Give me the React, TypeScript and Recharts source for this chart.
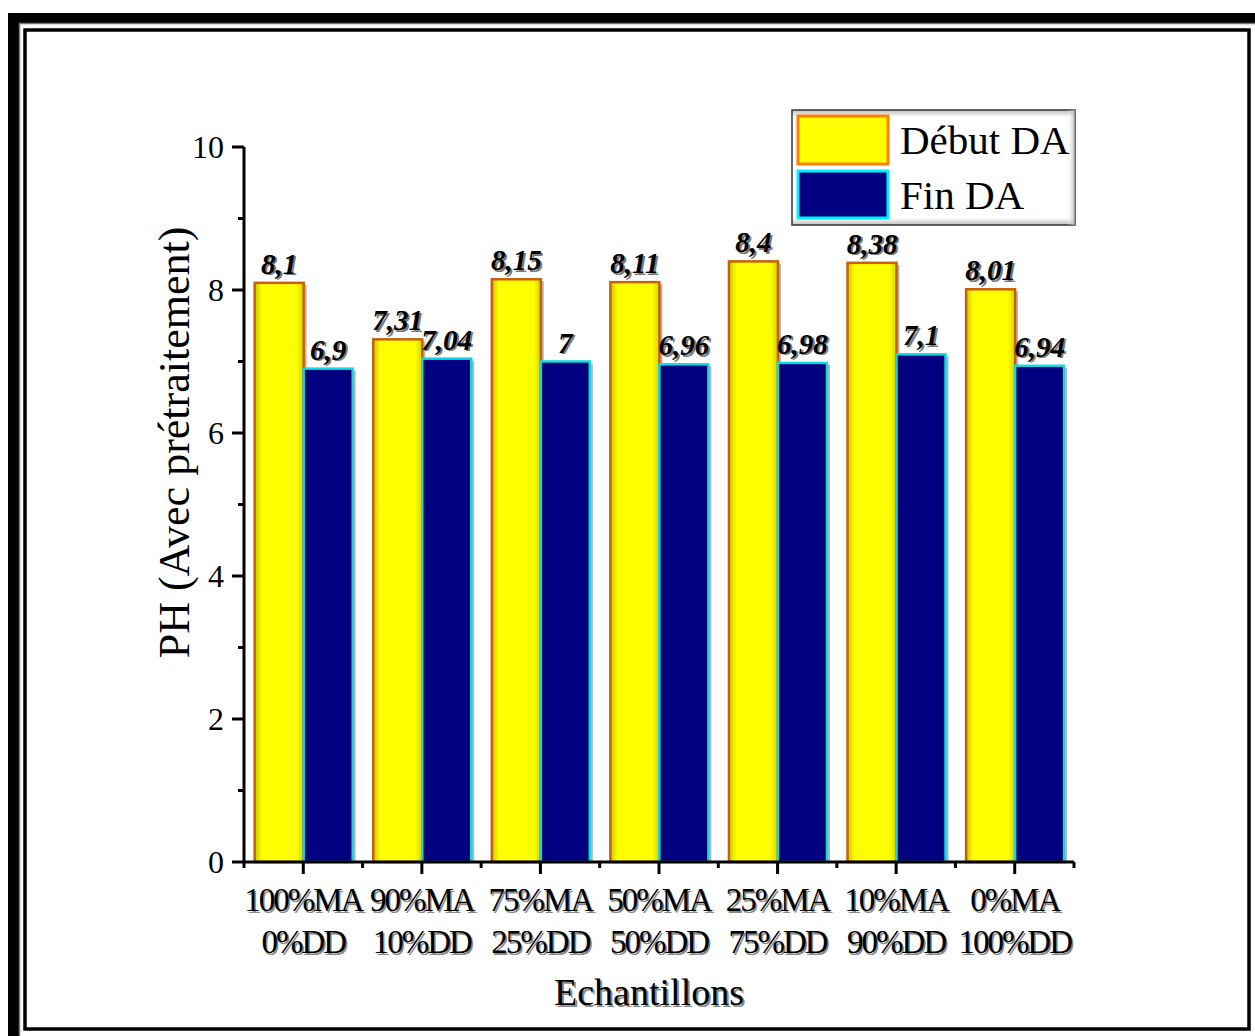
import React from 'react';
import { BarChart, Bar, XAxis, YAxis, LabelList, Legend, Label } from 'recharts';

const categories = ['100%MA|0%DD', '90%MA|10%DD', '75%MA|25%DD', '50%MA|50%DD', '25%MA|75%DD', '10%MA|90%DD', '0%MA|100%DD'];
const debutDA = [8.1, 7.31, 8.15, 8.11, 8.4, 8.38, 8.01];
const finDA = [6.9, 7.04, 7, 6.96, 6.98, 7.1, 6.94];
const yTicks = [0, 1, 2, 3, 4, 5, 6, 7, 8, 9, 10];

const data = categories.map((c, i) => ({ name: c, debut: debutDA[i], fin: finDA[i] }));

const W = 1255;
const H = 1036;
const PLOT_LEFT = 244;
const PLOT_RIGHT = 1074;
const PLOT_TOP = 147;
const PLOT_BOTTOM = 862;
const BAND = (PLOT_RIGHT - PLOT_LEFT) / categories.length;
const SERIF = '"Liberation Serif", "Times New Roman", serif';

const ShadowText = (props: any) => {
  const { children, shadow = '#8a8a8a', dx = 2, dy = 2, ...rest } = props;
  return (
    <g>
      <text {...rest} x={rest.x + dx} y={rest.y + dy} fill={shadow}>{children}</text>
      <text {...rest} fill="#000">{children}</text>
    </g>
  );
};

const YTick = (props: any) => {
  const { x, y, payload } = props;
  const major = payload.value % 2 === 0;
  return (
    <g>
      <line x1={x - (major ? 12 : 6)} x2={x} y1={y} y2={y} stroke="#000" strokeWidth={3} />
      {major && (
        <text x={x - 20} y={y + 11} textAnchor="end" fontFamily={SERIF} fontSize={32} fill="#000">
          {payload.value}
        </text>
      )}
    </g>
  );
};

const XTick = (props: any) => {
  const { x, y, payload, index } = props;
  const [l1, l2] = String(payload.value).split('|');
  const last = index === categories.length - 1;
  const ts = { fontFamily: SERIF, fontSize: 33, letterSpacing: -2, textAnchor: 'middle' };
  return (
    <g>
      <line x1={x} x2={x} y1={y} y2={y + 12} stroke="#000" strokeWidth={3} />
      <line x1={x - BAND / 2} x2={x - BAND / 2} y1={y} y2={y + 6} stroke="#000" strokeWidth={3} />
      {last && <line x1={x + BAND / 2} x2={x + BAND / 2} y1={y} y2={y + 6} stroke="#000" strokeWidth={3} />}
      <ShadowText x={x} y={y + 49} {...ts} dx={1.5} dy={1.5}>{l1}</ShadowText>
      <ShadowText x={x} y={y + 91} {...ts} dx={1.5} dy={1.5}>{l2}</ShadowText>
    </g>
  );
};

const makeBar = (gradId: string, stroke: string) => (props: any) => {
  const { x, y, width, height } = props;
  return (
    <g>
      <rect x={x + 3} y={y + 2} width={width} height={height - 2} fill="#9a9a9a" opacity={0.7} />
      <rect x={x} y={y} width={width} height={height} fill={`url(#${gradId})`} stroke={stroke} strokeWidth={2.5} />
    </g>
  );
};

const YellowBar = makeBar('gradYellow', '#c8600a');
const BlueBar = makeBar('gradBlue', '#10d8e0');

const ValueLabel = (props: any) => {
  const { x, y, width, value } = props;
  return (
    <ShadowText
      x={x + width / 2}
      y={y - 9}
      textAnchor="middle"
      fontFamily={SERIF}
      fontSize={29}
      fontWeight="bold"
      fontStyle="italic"
      dx={2}
      dy={1.5}
      shadow="#7a7a7a"
    >
      {String(value).replace('.', ',')}
    </ShadowText>
  );
};

const LegendBox = (props: any) => {
  const items = props.payload || [];
  const strokes: Record<string, string> = { debut: '#ff8000', fin: '#00f0ff' };
  return (
    <svg width={287} height={119} style={{ display: 'block' }}>
      <defs>
        <linearGradient id="lgShadeV" x1="0" y1="0" x2="0" y2="1">
          <stop offset="0" stopColor="#bbb" />
          <stop offset="0.06" stopColor="#fff" />
          <stop offset="0.94" stopColor="#fff" />
          <stop offset="1" stopColor="#bbb" />
        </linearGradient>
        <linearGradient id="lgShadeH" x1="0" y1="0" x2="1" y2="0">
          <stop offset="0" stopColor="#fff" stopOpacity="0" />
          <stop offset="0.97" stopColor="#fff" stopOpacity="0" />
          <stop offset="1" stopColor="#aaa" stopOpacity="0.8" />
        </linearGradient>
      </defs>
      <rect x={1} y={1} width={283} height={115} fill="url(#lgShadeV)" stroke="#333" strokeWidth={1.5} />
      <rect x={1} y={1} width={283} height={115} fill="url(#lgShadeH)" />
      {items.map((it: any, i: number) => (
        <g key={it.dataKey}>
          <rect
            x={7}
            y={7 + i * 55}
            width={90}
            height={i === 0 ? 48 : 47}
            fill={it.color}
            stroke={strokes[it.dataKey]}
            strokeWidth={3}
          />
          <text x={109} y={45 + i * 55} fontFamily={SERIF} fontSize={41} fill="#000">
            {it.value}
          </text>
        </g>
      ))}
    </svg>
  );
};

const YTitle = (props: any) => {
  const { viewBox } = props;
  const cx = viewBox.x + 30;
  const cy = viewBox.y + viewBox.height / 2 - 62;
  return (
    <text
      x={cx}
      y={cy}
      transform={`rotate(-90 ${cx} ${cy})`}
      textAnchor="middle"
      dominantBaseline="central"
      fontFamily={SERIF}
      fontSize={44}
      fill="#000"
    >
      PH (Avec prétraitement)
    </text>
  );
};

const XTitle = (props: any) => {
  const { viewBox } = props;
  const cx = viewBox.x + viewBox.width / 2 - 10;
  return (
    <ShadowText x={cx} y={1005} textAnchor="middle" fontFamily={SERIF} fontSize={38} dx={2} dy={2}>
      Echantillons
    </ShadowText>
  );
};

const Frame = () => (
  <svg width={W} height={H} style={{ position: 'absolute', left: 0, top: 0 }}>
    <rect x={0} y={0} width={W} height={H} fill="#fff" />
    <rect x={8} y={13} width={W + 20} height={H + 20} fill="#000" />
    <rect x={19.5} y={23.5} width={W + 20} height={H + 20} fill="#fff" stroke="#777" strokeWidth={1.5} />
    <rect x={25} y={30} width={1224} height={999} fill="#fff" stroke="#000" strokeWidth={3.5} />
  </svg>
);

export default function App() {
  return (
    <div style={{ position: 'absolute', left: 0, top: 0, width: W, height: H, background: '#fff' }}>
      <Frame />
      <div style={{ position: 'absolute', left: 0, top: 0 }}>
        <BarChart
          width={W}
          height={H}
          data={data}
          margin={{ top: PLOT_TOP, right: W - PLOT_RIGHT, bottom: H - PLOT_BOTTOM - 120, left: PLOT_LEFT - 100 }}
          barCategoryGap="9%"
          barGap={0}
        >
          <defs>
            <linearGradient id="gradYellow" x1="0" y1="0" x2="1" y2="0">
              <stop offset="0" stopColor="#c8c800" />
              <stop offset="0.15" stopColor="#ffff00" />
              <stop offset="0.85" stopColor="#ffff00" />
              <stop offset="1" stopColor="#d4d400" />
            </linearGradient>
            <linearGradient id="gradBlue" x1="0" y1="0" x2="1" y2="0">
              <stop offset="0" stopColor="#000060" />
              <stop offset="0.12" stopColor="#000080" />
              <stop offset="0.88" stopColor="#000080" />
              <stop offset="1" stopColor="#000068" />
            </linearGradient>
          </defs>
          <XAxis
            dataKey="name"
            height={120}
            interval={0}
            tickLine={false}
            tickSize={0}
            tickMargin={0}
            tick={<XTick />}
            axisLine={{ stroke: '#000', strokeWidth: 3 }}
          >
            <Label content={<XTitle />} />
          </XAxis>
          <YAxis
            width={100}
            domain={[0, 10]}
            ticks={yTicks}
            interval={0}
            tickLine={false}
            tickSize={0}
            tickMargin={0}
            tick={<YTick />}
            axisLine={{ stroke: '#000', strokeWidth: 3 }}
          >
            <Label content={<YTitle />} />
          </YAxis>
          <Legend
            layout="horizontal"
            verticalAlign="middle"
            align="center"
            wrapperStyle={{ position: 'absolute', left: 791, top: 109, width: 287, height: 119 }}
            content={<LegendBox />}
          />
          <Bar dataKey="debut" name="Début DA" fill="#ffff00" shape={YellowBar} isAnimationActive={false}>
            <LabelList dataKey="debut" content={<ValueLabel />} />
          </Bar>
          <Bar dataKey="fin" name="Fin DA" fill="#000080" shape={BlueBar} isAnimationActive={false}>
            <LabelList dataKey="fin" content={<ValueLabel />} />
          </Bar>
        </BarChart>
      </div>
    </div>
  );
}
